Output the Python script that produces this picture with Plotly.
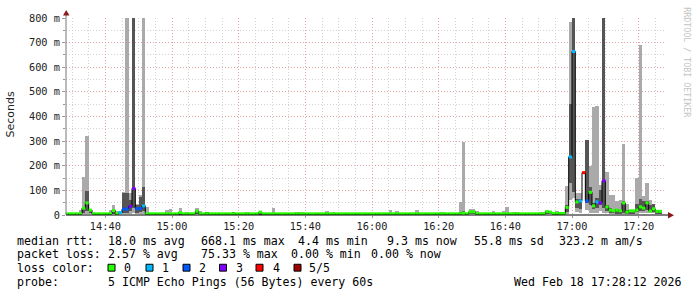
import plotly.graph_objects as go
import pandas as pd

# ---------------- data (one value per minute, 14:28 .. 17:26) ----------------
start_time = "2026-02-18 14:28:00"
n_bins = 179
times = pd.date_range(start_time, periods=n_bins, freq="min")

median_ms = [
    5, 5, 5, 5, 5, 28, 49, 20, 5, 5,
    5, 5, 5, 5, 18, 5, 10, 24, 24, 35,
    108, 26, 26, 37, 5, 5, 5, 5, 5, 5,
    5, 5, 5, 5, 10, 5, 5, 5, 5, 16,
    5, 5, 5, 5, 5, 5, 5, 5, 5, 5,
    5, 5, 5, 5, 5, 5, 5, 5, 12, 5,
    5, 5, 5, 5, 5, 5, 5, 5, 5, 5,
    5, 5, 5, 5, 5, 5, 5, 5, 5, 5,
    5, 5, 5, 5, 5, 5, 5, 5, 5, 5,
    5, 5, 5, 5, 5, 5, 5, 5, 5, 5,
    5, 5, 5, 5, 5, 5, 5, 5, 5, 5,
    5, 5, 5, 5, 5, 5, 5, 5, 5, 8,
    5, 13, 13, 5, 5, 5, 5, 5, 5, 5,
    5, 5, 5, 5, 5, 5, 5, 5, 5, 5,
    5, 5, 5, 5, 14, 12, 7, 7, 6, 6,
    31, 236, 664, 53, 57, 172, 57, 92, 37, 53,
    49, 139, 33, 20, 17, 20, 17, 49, 12, 17,
    17, 20, 33, 28, 49, 16, 25, 15, 15,
]

loss_count = [
    0, 0, 0, 0, 0, 0, 0, 0, 0, 0,
    0, 0, 0, 0, 0, 0, 1, 2, 2, 3,
    3, 2, 2, 1, 0, 0, 0, 0, 0, 0,
    0, 0, 0, 0, 0, 0, 0, 0, 0, 0,
    0, 0, 0, 0, 0, 0, 0, 0, 0, 0,
    0, 0, 0, 0, 0, 0, 0, 0, 0, 0,
    0, 0, 0, 0, 0, 0, 0, 0, 0, 0,
    0, 0, 0, 0, 0, 0, 0, 0, 0, 0,
    0, 0, 0, 0, 0, 0, 0, 0, 0, 0,
    0, 0, 0, 0, 0, 0, 0, 0, 0, 0,
    0, 0, 0, 0, 0, 0, 0, 0, 0, 0,
    0, 0, 0, 0, 0, 0, 0, 0, 0, 0,
    0, 0, 0, 0, 0, 0, 0, 0, 0, 0,
    0, 0, 0, 0, 0, 0, 0, 0, 0, 0,
    0, 0, 0, 0, 0, 0, 0, 0, 0, 0,
    0, 1, 1, 0, 1, 4, 2, 0, 0, 1,
    3, 3, 0, 0, 0, 0, 0, 0, 0, 0,
    0, 0, 0, 0, 0, 0, 0, 0, 0,
]

ping_min_ms = [
    3, 3, 3, 3, 3, 4, 5, 5, 3, 3,
    3, 3, 3, 3, 3, 3, 3, 4, 4, 5,
    10, 5, 5, 5, 3, 3, 3, 3, 3, 3,
    3, 3, 3, 3, 3, 3, 3, 3, 3, 3,
    3, 3, 3, 3, 3, 3, 3, 3, 3, 3,
    3, 3, 3, 3, 3, 3, 3, 3, 3, 3,
    3, 3, 3, 3, 3, 3, 3, 3, 3, 3,
    3, 3, 3, 3, 3, 3, 3, 3, 3, 3,
    3, 3, 3, 3, 3, 3, 3, 3, 3, 3,
    3, 3, 3, 3, 3, 3, 3, 3, 3, 3,
    3, 3, 3, 3, 3, 3, 3, 3, 3, 3,
    3, 3, 3, 3, 3, 3, 3, 3, 3, 3,
    3, 3, 3, 3, 3, 3, 3, 3, 3, 3,
    3, 3, 3, 3, 3, 3, 3, 3, 3, 3,
    3, 3, 3, 3, 3, 3, 3, 3, 3, 3,
    5, 60, 70, 12, 10, 172, 20, 10, 10, 10,
    15, 10, 8, 5, 5, 3, 3, 6, 3, 3,
    3, 6, 8, 8, 8, 8, 8, 3, 3,
]

ping_p2_ms = [
    4, 4, 4, 4, 4, 8, 15, 10, 4, 4,
    4, 4, 4, 4, 4, 4, 4, 10, 10, 15,
    30, 10, 12, 15, 4, 4, 4, 4, 4, 4,
    4, 4, 4, 4, 4, 4, 4, 4, 4, 4,
    4, 4, 4, 4, 4, 4, 4, 4, 4, 4,
    4, 4, 4, 4, 4, 4, 4, 4, 4, 4,
    4, 4, 4, 4, 4, 4, 4, 4, 4, 4,
    4, 4, 4, 4, 4, 4, 4, 4, 4, 4,
    4, 4, 4, 4, 4, 4, 4, 4, 4, 4,
    4, 4, 4, 4, 4, 4, 4, 4, 4, 4,
    4, 4, 4, 4, 4, 4, 4, 4, 4, 4,
    4, 4, 4, 4, 4, 4, 4, 4, 4, 4,
    4, 4, 4, 4, 4, 4, 4, 4, 4, 4,
    4, 4, 4, 4, 4, 4, 4, 4, 4, 4,
    4, 4, 4, 4, 4, 4, 4, 4, 4, 4,
    12, 128, 93, 30, 25, 172, 50, 40, 25, 30,
    40, 30, 15, 10, 8, 4, 4, 10, 4, 4,
    4, 12, 15, 15, 20, 12, 12, 4, 4,
]

ping_p4_ms = [
    6, 6, 6, 6, 6, 32, 96, 22, 6, 6,
    6, 6, 6, 6, 22, 6, 14, 88, 88, 60,
    900, 40, 72, 112, 6, 6, 6, 6, 10, 6,
    6, 6, 6, 6, 12, 6, 6, 6, 6, 18,
    6, 6, 12, 6, 6, 6, 6, 6, 6, 6,
    14, 6, 6, 6, 6, 6, 6, 6, 12, 6,
    6, 6, 6, 6, 6, 6, 6, 6, 6, 6,
    6, 6, 6, 6, 6, 6, 6, 6, 6, 6,
    6, 6, 6, 6, 6, 6, 6, 6, 6, 6,
    6, 6, 6, 6, 6, 6, 6, 6, 6, 6,
    6, 6, 6, 6, 6, 6, 6, 6, 6, 6,
    6, 6, 6, 6, 6, 6, 6, 6, 12, 15,
    6, 15, 15, 6, 6, 6, 6, 6, 6, 6,
    6, 6, 6, 6, 6, 6, 6, 6, 6, 6,
    6, 6, 6, 6, 15, 13, 8, 8, 6, 6,
    40, 449, 900, 65, 65, 172, 305, 113, 50, 70,
    100, 900, 40, 30, 20, 25, 20, 55, 20, 18,
    18, 45, 64, 55, 55, 40, 44, 16, 15,
]

ping_max_ms = [
    8, 8, 8, 8, 20, 156, 320, 24, 12, 8,
    8, 8, 8, 20, 40, 16, 18, 95, 900, 90,
    900, 45, 80, 900, 33, 8, 8, 8, 10, 8,
    20, 25, 8, 8, 28, 8, 12, 8, 8, 28,
    16, 8, 12, 8, 8, 8, 8, 8, 8, 8,
    14, 8, 8, 8, 12, 8, 8, 8, 12, 8,
    8, 8, 28, 8, 8, 8, 8, 8, 8, 12,
    12, 12, 8, 8, 8, 8, 8, 8, 16, 8,
    12, 8, 8, 8, 8, 8, 8, 8, 8, 8,
    8, 8, 8, 8, 8, 8, 8, 20, 8, 16,
    8, 8, 8, 8, 8, 20, 8, 8, 8, 8,
    8, 8, 12, 12, 8, 8, 8, 8, 52, 296,
    8, 25, 25, 16, 8, 8, 8, 8, 16, 8,
    8, 16, 32, 8, 12, 12, 8, 8, 8, 8,
    8, 8, 12, 12, 16, 14, 8, 16, 8, 8,
    116, 784, 900, 89, 90, 172, 305, 197, 440, 444,
    120, 900, 176, 80, 80, 57, 60, 288, 45, 22,
    22, 149, 689, 77, 128, 60, 44, 20, 16,
]

y_tick_vals = [0, 100, 200, 300, 400, 500, 600, 700, 800]
y_tick_text = ["0", "100 m", "200 m", "300 m", "400 m", "500 m", "600 m", "700 m", "800 m"]

loss_labels = ["0", "1", "2", "3", "4", "5/5"]
loss_colors = ["#26ff00", "#00b8ff", "#0059ff", "#7e00ff", "#ff0000", "#a10000"]

stats_lines = [
    ["median rtt:", "18.0 ms avg", "668.1 ms max", "4.4 ms min", "9.3 ms now", "55.8 ms sd", "323.2 m am/s"],
    ["packet loss:", "2.57 % avg", "75.33 % max", "0.00 % min", "0.00 % now"],
]
probe_label = "probe:"
probe_text = "5 ICMP Echo Pings (56 Bytes) every 60s"
stamp_text = "Wed Feb 18 17:28:12 2026"

for arr in (median_ms, loss_count, ping_min_ms, ping_p2_ms, ping_p4_ms, ping_max_ms):
    assert len(arr) == n_bins, len(arr)

# ---------------- geometry helpers (pixel -> paper) ----------------
L, R, T, B = 66, 666, 15, 215
W, H = 697, 297


def px(x):
    return (x - L) / (R - L)


def py(y):
    return (B - y) / (B - T)


bin_start = list(times)
bin_end = list(times + pd.Timedelta(minutes=1))
centers = list(times + pd.Timedelta(seconds=30))

fig = go.Figure()

# smoke: outer (min..max) and inner (2nd..4th ping)
fig.add_trace(go.Bar(
    x=centers, base=ping_min_ms,
    y=[h - l for h, l in zip(ping_max_ms, ping_min_ms)],
    width=60000, marker=dict(color="#aaaaaa", line=dict(width=0)),
    hoverinfo="skip", showlegend=False))
fig.add_trace(go.Bar(
    x=centers, base=ping_p2_ms,
    y=[h - l for h, l in zip(ping_p4_ms, ping_p2_ms)],
    width=60000, marker=dict(color="#555555", line=dict(width=0)),
    hoverinfo="skip", showlegend=False))

# thin median step line
fig.add_trace(go.Scatter(
    x=bin_start + [bin_end[-1]], y=median_ms + [median_ms[-1]],
    mode="lines", line=dict(color="#000000", width=1, shape="hv"),
    hoverinfo="skip", showlegend=False))

# loss coloured median marks: one short bar per minute, no vertical joins
for lvl, col in enumerate(loss_colors):
    xs, ys = [], []
    for i in range(n_bins):
        if loss_count[i] == lvl:
            xs += [bin_start[i], bin_end[i], None]
            ys += [median_ms[i], median_ms[i], None]
    if xs:
        fig.add_trace(go.Scatter(x=xs, y=ys, mode="lines",
                                 line=dict(color=col, width=3),
                                 hoverinfo="skip", showlegend=False))

mono = "DejaVu Sans Mono"
major_grid = "#e6a3a3"
minor_grid = "#d2d2d2"
dash = "1px,2px"

fig.update_layout(
    width=W, height=H,
    margin=dict(l=L, r=W - R, t=T, b=H - B),
    paper_bgcolor="white", plot_bgcolor="white",
    barmode="overlay", bargap=0,
    showlegend=False,
    xaxis=dict(
        type="date",
        range=["2026-02-18 14:28:12", "2026-02-18 17:28:12"],
        tick0="2026-02-18 14:40:00", dtick=1200000, tickformat="%H:%M",
        showgrid=True, gridcolor=major_grid, griddash=dash, gridwidth=1,
        minor=dict(tick0="2026-02-18 14:40:00", dtick=300000, showgrid=True,
                   gridcolor=minor_grid, griddash=dash, gridwidth=1),
        showline=False, zeroline=False, ticks="outside", ticklen=2,
        tickcolor="#999999",
        tickfont=dict(family=mono, size=10.3, color="#222222"),
        fixedrange=True,
    ),
    yaxis=dict(
        range=[0, 800],
        tickvals=y_tick_vals, ticktext=y_tick_text,
        showgrid=True, gridcolor=major_grid, griddash=dash, gridwidth=1,
        minor=dict(dtick=50, showgrid=True, gridcolor=minor_grid, griddash=dash,
                   ticks="outside", ticklen=2, tickcolor="#999999"),
        showline=False, zeroline=False, ticks="outside", ticklen=3,
        tickcolor="#999999",
        tickfont=dict(family=mono, size=10.3, color="#222222"),
        fixedrange=True,
    ),
)

shapes = []
# axes
shapes.append(dict(type="line", xref="paper", yref="paper",
                   x0=px(66), x1=px(669), y0=py(215), y1=py(215),
                   line=dict(color="#000000", width=1)))
shapes.append(dict(type="line", xref="paper", yref="paper",
                   x0=px(66), x1=px(66), y0=py(215), y1=py(10),
                   line=dict(color="#777777", width=1)))
# arrows
shapes.append(dict(type="path", xref="paper", yref="paper",
                   path="M {} {} L {} {} L {} {} Z".format(
                       px(63), py(12.5), px(69.5), py(12.5), px(66.2), py(7)),
                   fillcolor="#8b1a1a", line=dict(width=0)))
shapes.append(dict(type="path", xref="paper", yref="paper",
                   path="M {} {} L {} {} L {} {} Z".format(
                       px(668), py(212), px(668), py(218.5), px(674), py(215.2)),
                   fillcolor="#8b1a1a", line=dict(width=0)))

annotations = []


def text(x, y, s, size=11.6, family=mono, color="#000000", xanchor="left", angle=0):
    annotations.append(dict(
        x=px(x), y=py(y), xref="paper", yref="paper", text=s, showarrow=False,
        xanchor=xanchor, yanchor="middle", textangle=angle, borderpad=0,
        font=dict(family=family, size=size, color=color)))


# axis title & watermark
text(11, 113, "Seconds", size=11, family="DejaVu Sans", color="#222222",
     xanchor="center", angle=-90)
text(687, 60, "RRDTOOL / TOBI OETIKER", size=8.3, color="#c4c4c4",
     xanchor="center", angle=90)

# statistics lines
line1_x = [16, 107, 200, 297, 386, 473, 558]
for s, x in zip(stats_lines[0], line1_x):
    text(x, 241, s)
line2_x = [16, 107, 200, 290, 370]
for s, x in zip(stats_lines[1], line2_x):
    text(x, 255, s)

# loss colour legend
text(16, 269, "loss color:")
square_x = [108, 146, 183, 219.5, 256, 294]
label_x = [123, 160.5, 198, 235, 271.5, 308]
for lab, col, sx, lx in zip(loss_labels, loss_colors, square_x, label_x):
    shapes.append(dict(type="rect", xref="paper", yref="paper",
                       x0=px(sx), x1=px(sx + 7), y0=py(272), y1=py(265),
                       fillcolor=col, line=dict(color="#000000", width=1)))
    text(lx, 269, lab)

text(16, 283, probe_label)
text(107, 283, probe_text)
text(513, 283, stamp_text)

fig.update_layout(shapes=shapes, annotations=annotations)

fig.write_html("out.html")
